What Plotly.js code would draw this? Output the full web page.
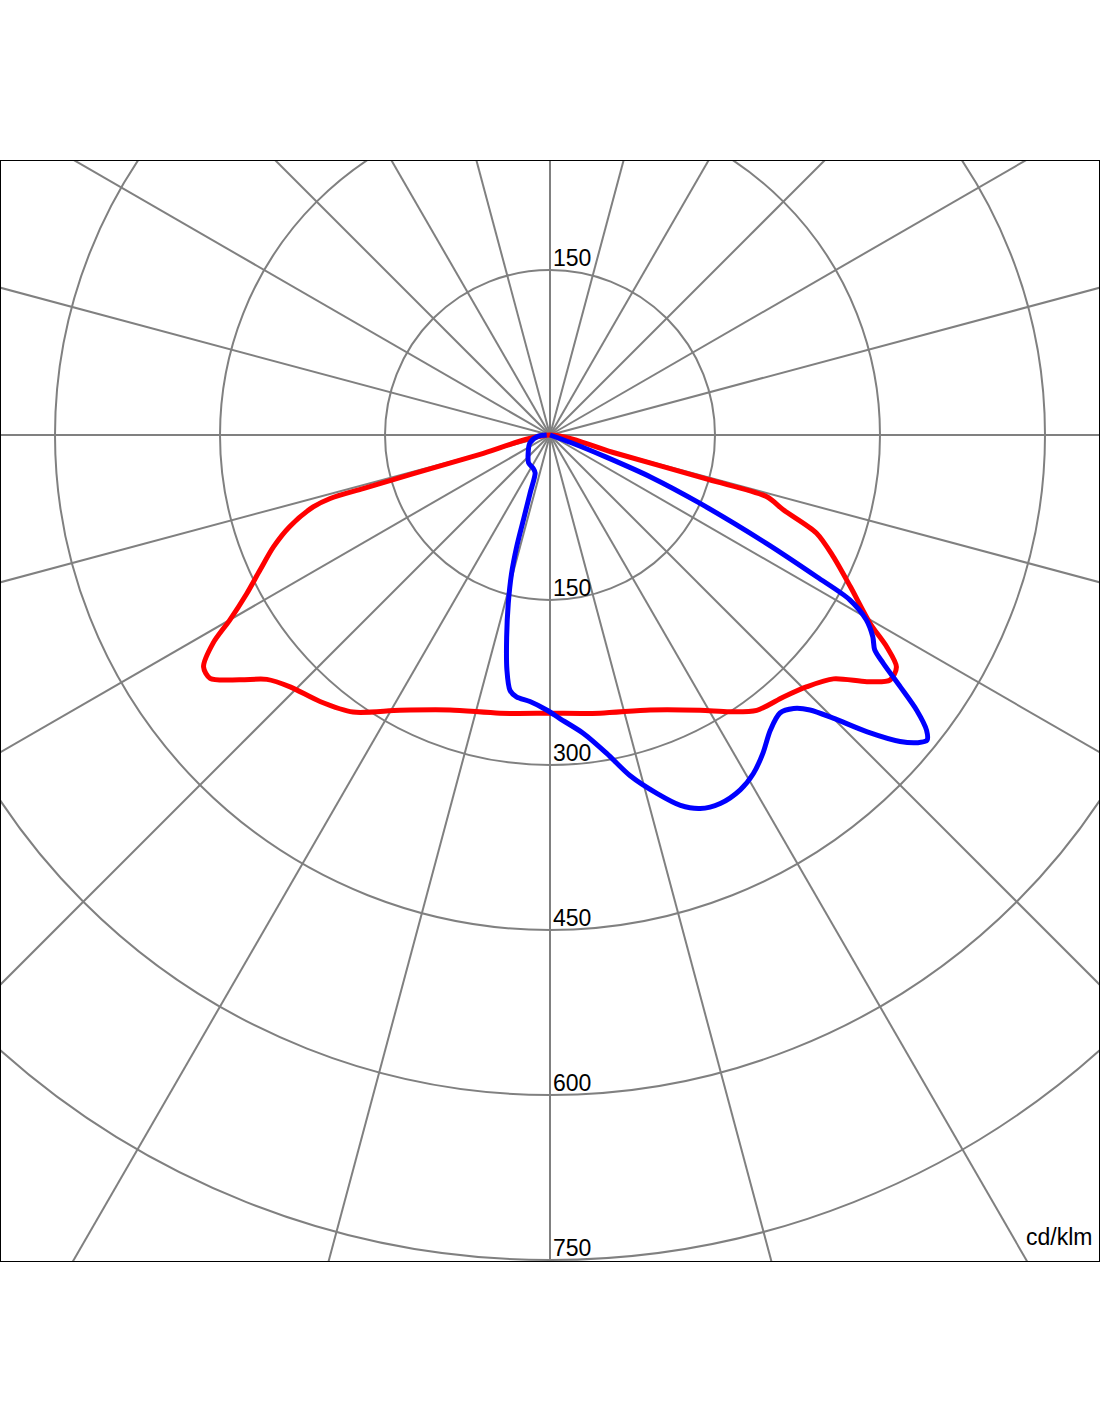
<!DOCTYPE html>
<html>
<head>
<meta charset="utf-8">
<script src="https://cdn.plot.ly/plotly-3.0.1.min.js"></script>
<style>html,body{margin:0;padding:0;background:#fff;}</style>
</head>
<body>
<div id="chart" style="width:1100px;height:1422px;"></div>
<script>
// Gamma angles (degrees from nadir; negative = left half) and intensities (cd/klm)
const redAngles = [-90, -74.5, -74.2, -74.0, -73.9, -73.1, -70.6, -68.0, -65.0, -62.4, -60.0, -58.3, -56.2, -54.4, -51.7, -49.2, -45.9, -40.8, -35.4, -28.6, -20.0, -10.2, 0, 10.2, 20.0, 28.6, 33.0, 36.9, 41.7, 45.6, 49.3, 52.1, 54.2, 56.2, 57.8, 59.5, 63.2, 66.8, 69.8, 72.2, 74.1, 74.3, 74.5, 90];
const redValues = [0, 66, 129, 176, 208, 225, 251, 271, 291, 311, 336, 360, 379, 380, 359, 340, 329, 320, 309, 285, 266, 257, 253, 257, 266, 285, 300, 313, 319, 327, 340, 365, 381, 379, 362, 338, 306, 280, 258, 223, 205, 150, 63, 0];

const blueAngles = [-90, -82.7, -67.5, -49.8, -37.5, -26.6, -21.4, -18.9, -17.4, -16.6, -15.5, -13.9, -12.1, -10.4, -8.9, -7.3, -4.3, -0.7, 2.0, 6.4, 10.1, 13.2, 16.6, 19.4, 21.9, 24.8, 28.2, 31.0, 33.8, 36.7, 39.6, 41.7, 43.4, 45.0, 46.9, 48.8, 50.1, 51.0, 51.9, 53.1, 54.3, 55.6, 56.5, 58.0, 59.7, 61.2, 62.0, 63.4, 65.5, 67.3, 68.5, 70.0, 90];
const blueValues = [3, 12, 20, 26, 32, 34, 37, 56, 81, 106, 131, 158, 188, 217, 235, 240, 243, 250, 258, 273, 294, 318, 340, 357, 366, 369, 366, 359, 348, 335, 328, 333, 344, 364, 395, 423, 436, 441, 435, 417, 392, 367, 354, 346, 333, 311, 275, 220, 150, 100, 55, 20, 0];

const ringValues = [150, 300, 450, 600, 750];
const spokeStep = 15;
const unitLabel = 'cd/klm';

function toXY(angles, values) {
  const x = [], y = [];
  for (let i = 0; i < angles.length; i++) {
    const g = angles[i] * Math.PI / 180;
    x.push(values[i] * Math.sin(g));
    y.push(-values[i] * Math.cos(g));
  }
  return {x, y};
}

const red = toXY(redAngles, redValues);
const blue = toXY(blueAngles, blueValues);

const gridColor = '#808080';
const shapes = [];
ringValues.forEach(r => {
  shapes.push({type: 'circle', xref: 'x', yref: 'y', x0: -r, x1: r, y0: -r, y1: r,
    line: {color: gridColor, width: 2}, layer: 'below'});
});
for (let a = 0; a < 360; a += spokeStep) {
  const t = a * Math.PI / 180;
  shapes.push({type: 'line', xref: 'x', yref: 'y', x0: 0, y0: 0,
    x1: 1500 * Math.cos(t), y1: 1500 * Math.sin(t),
    line: {color: gridColor, width: 2}, layer: 'below'});
}

const font = {family: 'Liberation Sans, Arial, sans-serif', size: 23, color: '#000'};
const annotations = [];
ringValues.forEach(r => {
  annotations.push({x: 0, y: -r, xref: 'x', yref: 'y', text: String(r), showarrow: false,
    xanchor: 'left', yanchor: 'bottom', xshift: 1, yshift: -3, font: font});
});
annotations.push({x: 0, y: ringValues[0], xref: 'x', yref: 'y', text: String(ringValues[0]), showarrow: false,
  xanchor: 'left', yanchor: 'bottom', xshift: 1, yshift: -3, font: font});
annotations.push({x: 1, y: 0, xref: 'paper', yref: 'paper', text: unitLabel, showarrow: false,
  xanchor: 'right', yanchor: 'bottom', xshift: -5, yshift: 9, font: font});

const traces = [
  {x: red.x, y: red.y, mode: 'lines', line: {color: 'rgb(255,0,0)', width: 5, shape: 'spline', smoothing: 0.8},
   hoverinfo: 'skip', showlegend: false},
  {x: blue.x, y: blue.y, mode: 'lines', line: {color: 'rgb(0,0,255)', width: 5, shape: 'spline', smoothing: 0.8},
   hoverinfo: 'skip', showlegend: false}
];

const W = 1100, H = 1422;
const mL = 1, mR = 1, mT = 161, mB = 161;
const scale = 1.1; // px per cd/klm
const pw = W - mL - mR, ph = H - mT - mB;
const cx = 550 - mL, cy = 435 - mT;
const layout = {
  width: W, height: H,
  margin: {l: mL, r: mR, t: mT, b: mB, pad: 0},
  paper_bgcolor: '#fff', plot_bgcolor: '#fff',
  xaxis: {range: [-cx / scale, (pw - cx) / scale], showgrid: false, zeroline: false, showticklabels: false,
          ticks: '', showline: true, mirror: true, linecolor: '#000', linewidth: 1, fixedrange: true},
  yaxis: {range: [-(ph - cy) / scale, cy / scale], showgrid: false, zeroline: false, showticklabels: false,
          ticks: '', showline: true, mirror: true, linecolor: '#000', linewidth: 1, fixedrange: true},
  shapes: shapes,
  annotations: annotations,
  showlegend: false
};

Plotly.newPlot('chart', traces, layout, {displayModeBar: false, staticPlot: true});
</script>
</body>
</html>
